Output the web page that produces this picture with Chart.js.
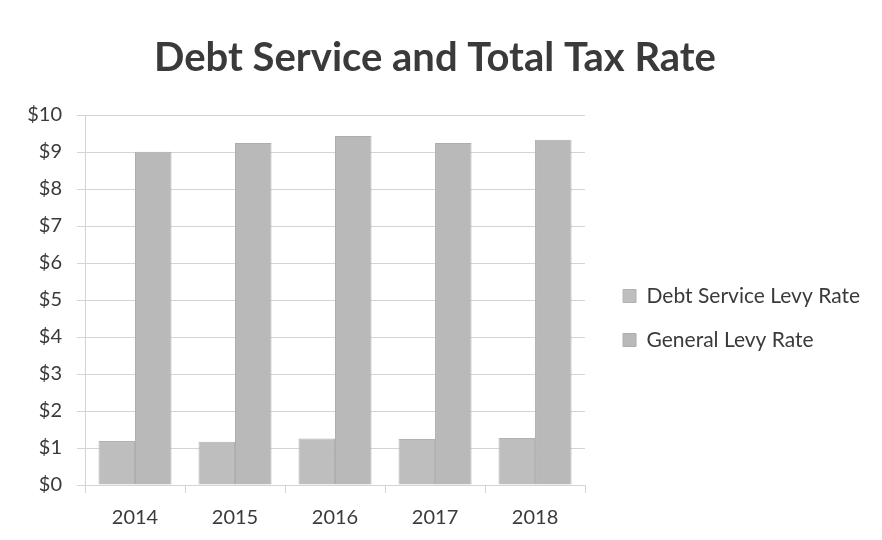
<!DOCTYPE html>
<html>
<head>
<meta charset="utf-8">
<script src="https://cdn.jsdelivr.net/npm/chart.js@4"></script>
<style>
  body { margin: 0; background: #fff; }
  #wrap { width: 882px; height: 540px; }
</style>
</head>
<body>
<div id="wrap"><canvas id="chart" width="882" height="540"></canvas></div>
<script>
// years and levy rates (dollars)
const years = ['2014', '2015', '2016', '2017', '2018'];
const debtServiceRate = [1.19, 1.17, 1.26, 1.24, 1.27];
const generalRate = [9.01, 9.24, 9.43, 9.24, 9.33];
const seriesNames = ['Debt Service Levy Rate', 'General Levy Rate'];

const textColor = '#3a3a3a';
const gridColor = '#d4d4d4';

const ctx = document.getElementById('chart').getContext('2d');

new Chart(ctx, {
    type: 'bar',
    data: {
        labels: years,
        datasets: [{
            label: seriesNames[0],
            data: debtServiceRate,
            backgroundColor: '#bebebe',
            borderColor: '#b2b2b2',
            borderWidth: 1
        }, {
            label: seriesNames[1],
            data: generalRate,
            backgroundColor: '#b9b9b9',
            borderColor: '#adadad',
            borderWidth: 1
        }]
    },
    options: {
        responsive: false,
        animation: false,
        layout: {
            padding: { left: 0, right: 12, top: 0, bottom: 5 }
        },
        datasets: {
            bar: { categoryPercentage: 0.73, barPercentage: 1.0 }
        },
        plugins: {
            title: {
                display: true,
                text: 'Debt Service and Total Tax Rate',
                color: textColor,
                font: { family: 'Lato', size: 40, weight: 'bold' },
                padding: { top: 34, bottom: 33 }
            },
            legend: {
                position: 'right',
                maxWidth: 300,
                // empty title used only to push the items down a bit
                title: {
                    display: true,
                    text: '',
                    font: { size: 12 },
                    padding: { top: 86.6, bottom: 0 }
                },
                labels: {
                    color: textColor,
                    font: { family: 'Lato', size: 21 },
                    boxWidth: 13,
                    boxHeight: 13,
                    padding: 23
                }
            },
            tooltip: { enabled: false }
        },
        scales: {
            x: {
                afterFit: function (scale) { scale.height = 50; },
                grid: {
                    offset: true,
                    drawOnChartArea: false,
                    drawTicks: true,
                    tickLength: 8,
                    color: gridColor
                },
                border: { color: gridColor },
                ticks: {
                    color: textColor,
                    font: { family: 'Lato', size: 20 },
                    padding: 13
                }
            },
            y: {
                min: 0,
                max: 10,
                afterFit: function (scale) { scale.width = 85; },
                grid: { color: gridColor, tickLength: 8 },
                border: { color: gridColor },
                ticks: {
                    stepSize: 1,
                    color: textColor,
                    font: { family: 'Lato', size: 20 },
                    padding: 15,
                    callback: function (value) { return '$' + value; }
                }
            },
            // empty spacer between the plot and the legend
            gap: {
                position: 'right',
                display: true,
                grid: { display: false },
                border: { display: false },
                ticks: { display: false },
                afterFit: function (scale) { scale.width = 15; }
            }
        }
    }
});
</script>
</body>
</html>
